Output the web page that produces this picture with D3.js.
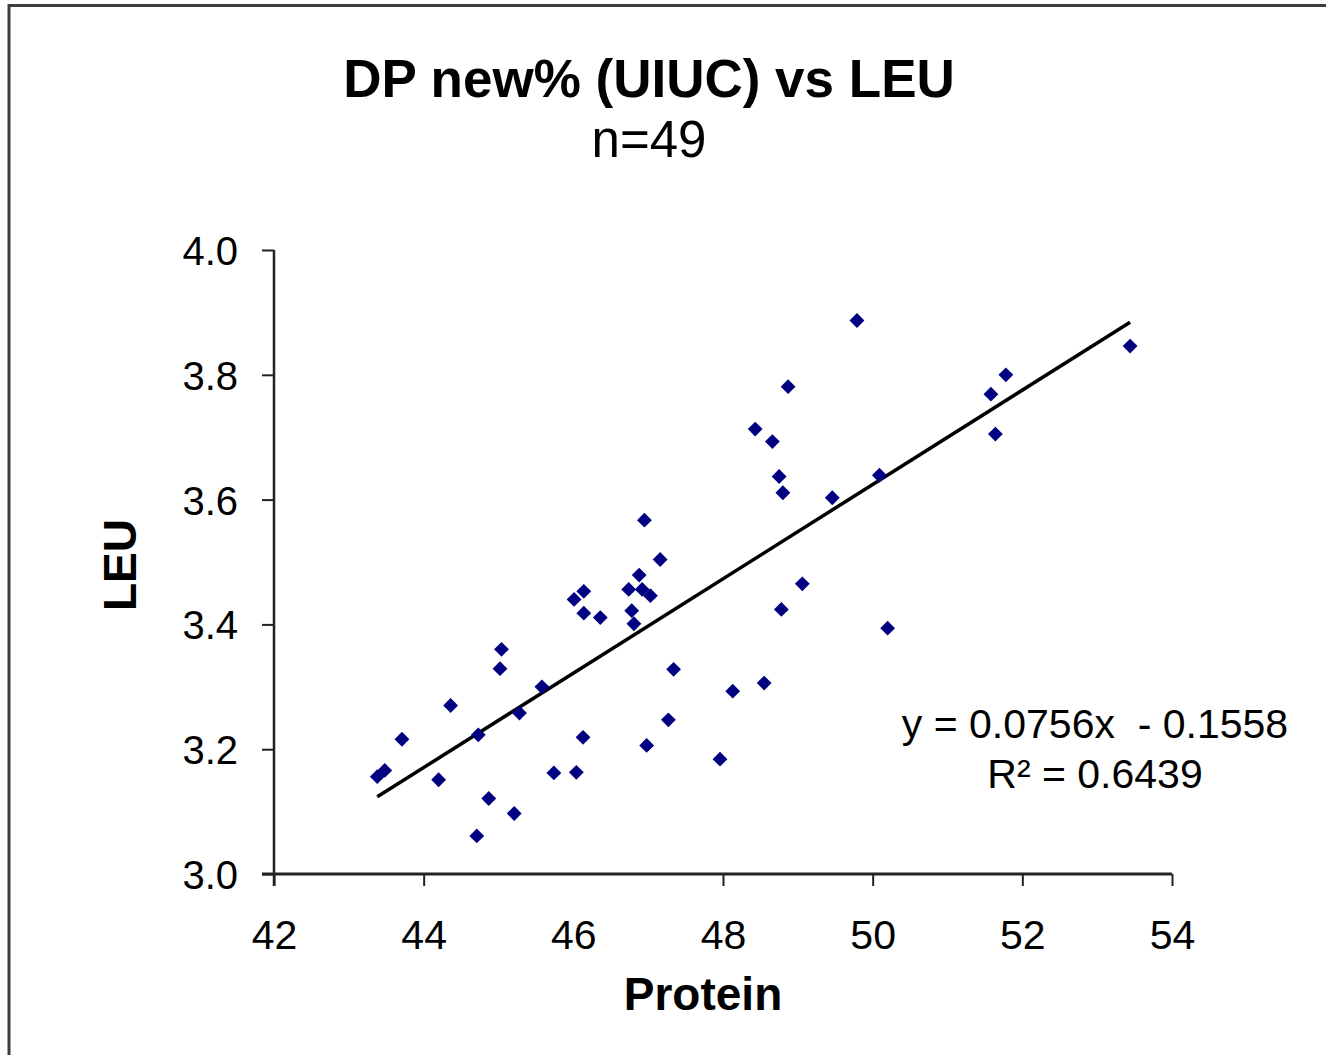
<!DOCTYPE html>
<html>
<head>
<meta charset="utf-8">
<script src="https://cdn.jsdelivr.net/npm/d3@7"></script>
<style>
  html, body { margin: 0; padding: 0; background: #fff; }
  svg { display: block; font-family: "Liberation Sans", Arial, sans-serif; }
</style>
</head>
<body>
<svg id="chart" width="1326" height="1055"></svg>
<script>
// ---- data ----
const protein = [43.38, 43.48, 43.71, 44.20, 44.36, 44.73, 44.87, 44.71, 45.21, 45.02,
                 45.04, 45.28, 45.58, 45.74, 46.04, 46.13, 46.01, 46.14, 46.14, 46.36,
                 46.74, 46.88, 46.92, 47.03, 46.78, 46.81, 47.16, 46.98, 47.27, 47.34,
                 46.95, 48.13, 48.55, 48.78, 49.06, 50.20, 48.80, 49.46, 48.75, 47.96,
                 49.79, 48.87, 48.43, 48.66, 50.09, 51.58, 51.78, 51.64, 53.44];
const leu =     [3.156, 3.166, 3.216, 3.151, 3.270, 3.223, 3.121, 3.061, 3.097, 3.329,
                 3.360, 3.258, 3.300, 3.162, 3.163, 3.219, 3.440, 3.453, 3.418, 3.411,
                 3.456, 3.479, 3.456, 3.446, 3.422, 3.401, 3.504, 3.206, 3.247, 3.328,
                 3.567, 3.293, 3.306, 3.424, 3.465, 3.394, 3.611, 3.603, 3.637, 3.184,
                 3.887, 3.781, 3.713, 3.693, 3.639, 3.769, 3.800, 3.705, 3.846];
const xTicks = [42, 44, 46, 48, 50, 52, 54];
const yTicks = [3.0, 3.2, 3.4, 3.6, 3.8, 4.0];
const slope = 0.0756;
const intercept = -0.1558;
const titleText = "DP new% (UIUC) vs LEU";
const subtitleText = "n=49";
const xLabel = "Protein";
const yLabel = "LEU";
const eqText = "y = 0.0756x  - 0.1558";
const r2Text = "R\u00B2 = 0.6439";

// ---- layout ----
const svg = d3.select("#chart");
const x = d3.scaleLinear().domain([42, 54]).range([274, 1172]);
const y = d3.scaleLinear().domain([3.0, 4.0]).range([874, 250]);

// outer frame (top and left edges visible)
svg.append("line").attr("x1", 9).attr("x2", 1326).attr("y1", 5.5).attr("y2", 5.5)
  .attr("stroke", "#3c3c3c").attr("stroke-width", 3);
svg.append("line").attr("x1", 9).attr("x2", 9).attr("y1", 4).attr("y2", 1055)
  .attr("stroke", "#3c3c3c").attr("stroke-width", 3);

// titles
svg.append("text").attr("x", 649).attr("y", 97).attr("text-anchor", "middle")
  .attr("font-size", 53).attr("font-weight", "bold").attr("fill", "#000").text(titleText);
svg.append("text").attr("x", 649).attr("y", 157).attr("text-anchor", "middle")
  .attr("font-size", 51).attr("fill", "#000").text(subtitleText);

// axes
const xAxis = d3.axisBottom(x).tickValues(xTicks).tickSize(12).tickPadding(34)
  .tickFormat(d3.format("d"));
const gx = svg.append("g").attr("transform", `translate(0,${y(3.0)})`).call(xAxis);
gx.select(".domain").remove();
gx.append("line").attr("x1", 262).attr("x2", x(54)).attr("y1", 0).attr("y2", 0)
  .attr("stroke", "#222").attr("stroke-width", 3);
gx.selectAll(".tick line").attr("stroke", "#222").attr("stroke-width", 2)
  .attr("display", d => d === 46 ? "none" : null);
gx.selectAll(".tick text").attr("font-size", 41).attr("fill", "#000")
  .attr("font-family", "Liberation Sans, Arial, sans-serif").attr("dy", "0.71em");

const yAxis = d3.axisLeft(y).tickValues(yTicks).tickSize(12).tickPadding(24)
  .tickFormat(d3.format(".1f"));
const gy = svg.append("g").attr("transform", `translate(${x(42)},0)`).call(yAxis);
gy.select(".domain").remove();
gy.append("line").attr("x1", 0).attr("x2", 0).attr("y1", y(4.0)).attr("y2", y(3.0) + 12)
  .attr("stroke", "#222").attr("stroke-width", 2.5);
gy.selectAll(".tick line").attr("stroke", "#222").attr("stroke-width", 2);
gy.selectAll(".tick text").attr("font-size", 40).attr("fill", "#000")
  .attr("font-family", "Liberation Sans, Arial, sans-serif").attr("dy", "0.36em");

// axis titles
svg.append("text").attr("x", 703).attr("y", 1010).attr("text-anchor", "middle")
  .attr("font-size", 46).attr("font-weight", "bold").attr("fill", "#000").text(xLabel);
svg.append("text").attr("transform", `translate(136,565) rotate(-90)`).attr("text-anchor", "middle")
  .attr("font-size", 46).attr("font-weight", "bold").attr("fill", "#000").text(yLabel);

// trendline
const xmin = d3.min(protein), xmax = d3.max(protein);
svg.append("line")
  .attr("x1", x(xmin)).attr("y1", y(slope * xmin + intercept))
  .attr("x2", x(xmax)).attr("y2", y(slope * xmax + intercept))
  .attr("stroke", "#000").attr("stroke-width", 3.5);

// points
const pts = protein.map((p, i) => ({ p, l: leu[i] }));
const diamond = d3.symbol().type(d3.symbolDiamond2).size(140);
svg.append("g").selectAll("path").data(pts).join("path")
  .attr("d", diamond)
  .attr("transform", d => `translate(${x(d.p)},${y(d.l)})`)
  .attr("fill", "#000080");

// equation
svg.append("text").attr("x", 1095).attr("y", 738).attr("text-anchor", "middle")
  .attr("font-size", 41).attr("fill", "#000").attr("xml:space", "preserve")
  .style("white-space", "pre").text(eqText);
svg.append("text").attr("x", 1095).attr("y", 788).attr("text-anchor", "middle")
  .attr("font-size", 41).attr("fill", "#000").text(r2Text);
</script>
</body>
</html>
